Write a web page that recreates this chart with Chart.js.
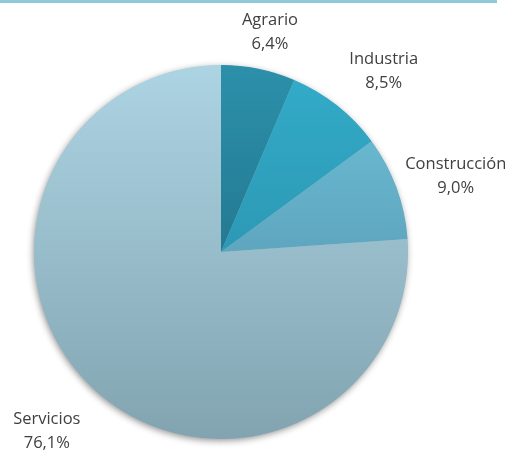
<!DOCTYPE html>
<html lang="es">
<head>
    <meta charset="UTF-8">
    <title>Sectores</title>
    <script src="https://cdn.jsdelivr.net/npm/chart.js"></script>
    <style>
        html, body { margin: 0; padding: 0; background: #fff; }
        #wrap { position: relative; width: 505px; height: 450px; overflow: hidden; }
        #topline { position: absolute; left: 0; top: 0; width: 497px; height: 3px; background: #8ecad7; }
        canvas { position: absolute; left: 0; top: 0; }
    </style>
</head>
<body>
<div id="wrap">
    <canvas id="myChart" width="505" height="450"></canvas>
    <div id="topline"></div>
</div>

<script>
    const labels = ['Agrario', 'Industria', 'Construcción', 'Servicios'];
    const shares = [6.4, 8.5, 9.0, 76.1];

    // top / bottom gradient colour per slice
    const topColors = ['#2c90ab', '#33acca', '#70c2db', '#add4e3'];
    const bottomColors = ['#1c6378', '#25869f', '#4d8aa2', '#82a4b1'];

    const pieShadow = {
        id: 'pieShadow',
        beforeDatasetsDraw(chart) {
            const arc = chart.getDatasetMeta(0).data[0];
            if (!arc) return;
            const ctx = chart.ctx;
            ctx.save();
            ctx.shadowColor = 'rgba(0,0,0,0.45)';
            ctx.shadowBlur = 7;
            ctx.shadowOffsetX = -1;
            ctx.shadowOffsetY = 2;
            ctx.fillStyle = '#8fb0bd';
            ctx.beginPath();
            ctx.arc(arc.x, arc.y, arc.outerRadius - 0.5, 0, Math.PI * 2);
            ctx.fill();
            ctx.restore();
        }
    };

    // small hand nudges so the labels sit where Excel put them
    const nudge = [[2, 7], [13, 0], [-7, 4], [-10, 10]];

    const outLabels = {
        id: 'outLabels',
        afterDatasetsDraw(chart) {
            const ctx = chart.ctx;
            const meta = chart.getDatasetMeta(0);
            ctx.save();
            ctx.font = '16.5px "Open Sans", sans-serif';
            ctx.fillStyle = '#404040';
            ctx.textAlign = 'center';
            ctx.textBaseline = 'middle';
            const lineH = 24;
            meta.data.forEach((arc, i) => {
                const mid = (arc.startAngle + arc.endAngle) / 2;
                const cos = Math.cos(mid), sin = Math.sin(mid);
                const d = arc.outerRadius + 20;
                const px = arc.x + cos * d, py = arc.y + sin * d;
                const l1 = labels[i];
                const l2 = shares[i].toFixed(1).replace('.', ',') + '%';
                const w = Math.max(ctx.measureText(l1).width, ctx.measureText(l2).width);
                const h = lineH * 2;
                const cx = px + cos * w / 2 + nudge[i][0];
                const cy = py + sin * h / 2 + nudge[i][1];
                ctx.fillText(l1, cx, cy - lineH / 2);
                ctx.fillText(l2, cx, cy + lineH / 2);
            });
            ctx.restore();
        }
    };

    const ctx = document.getElementById('myChart').getContext('2d');
    new Chart(ctx, {
        type: 'pie',
        data: {
            labels: labels,
            datasets: [{
                data: shares,
                borderWidth: 0,
                backgroundColor: (c) => {
                    const area = c.chart.chartArea;
                    if (!area) return topColors[c.dataIndex];
                    const g = c.chart.ctx.createLinearGradient(0, area.top, 0, area.bottom);
                    g.addColorStop(0, topColors[c.dataIndex]);
                    g.addColorStop(1, bottomColors[c.dataIndex]);
                    return g;
                }
            }]
        },
        options: {
            responsive: false,
            animation: false,
            layout: { padding: { left: 34, right: 97, top: 65, bottom: 11 } },
            plugins: {
                legend: { display: false },
                tooltip: { enabled: false }
            }
        },
        plugins: [pieShadow, outLabels]
    });
</script>
</body>
</html>
